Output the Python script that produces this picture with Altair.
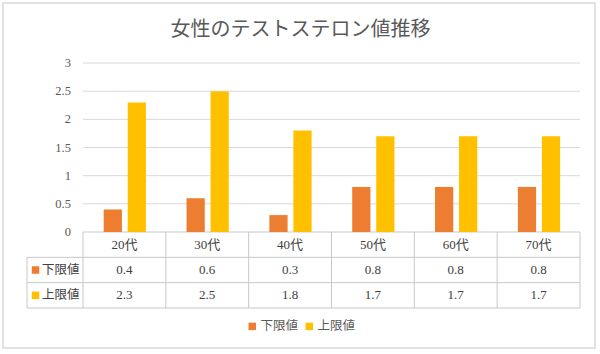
import altair as alt
import pandas as pd

# ---- data ----
categories = ["20代", "30代", "40代", "50代", "60代", "70代"]
series_names = ["下限値", "上限値"]
lower = [0.4, 0.6, 0.3, 0.8, 0.8, 0.8]
upper = [2.3, 2.5, 1.8, 1.7, 1.7, 1.7]
y_ticks = [0, 0.5, 1, 1.5, 2, 2.5, 3]
title_text = "女性のテストステロン値推移"
colors = ["#ED7D31", "#FFC000"]

# ---- layout constants (scale units) ----
NCAT = len(categories)
YMAX = 3
ROW_H = 0.4497           # one data-table row in y units
XMIN = -0.676            # width of row-label column in x units
YMIN = -3 * ROW_H

FONT_NUM = "'Liberation Serif', 'Noto Sans CJK JP', serif"
FONT_JP = "'Noto Sans CJK JP', sans-serif"
TXT = "#404040"
GRAY = "#595959"

xscale = alt.Scale(domain=[XMIN, NCAT], nice=False, zero=False)
yscale = alt.Scale(domain=[YMIN, YMAX], nice=False, zero=False)
cscale = alt.Scale(domain=series_names, range=colors)

rows = []
for i, c in enumerate(categories):
    for k, (s, vals) in enumerate(zip(series_names, [lower, upper])):
        rows.append({"cat": c, "idx": i, "series": s, "sidx": k, "value": vals[i]})
bars_df = pd.DataFrame(rows)

bars = alt.Chart(bars_df).transform_calculate(
    x0="datum.idx + 0.25 + datum.sidx * 0.29",
    x1="datum.x0 + 0.22",
    base="0",
).mark_rect().encode(
    x=alt.X("x0:Q", scale=xscale, axis=None),
    x2="x1:Q",
    y=alt.Y("value:Q", scale=yscale, axis=None),
    y2="base:Q",
    color=alt.Color("series:N", scale=cscale, sort=series_names,
                    legend=alt.Legend(title=None, orient="none", legendX=219, legendY=257,
                                      direction="horizontal", symbolType="square",
                                      symbolSize=56, labelFont=FONT_JP, labelFontSize=12.5,
                                      labelColor=GRAY, columnPadding=4, labelOffset=2)),
)

# y tick labels (drawn inside the left margin, as in the reference)
ytick_df = pd.DataFrame({"y": y_ticks})
ylabels = alt.Chart(ytick_df).transform_calculate(
    xc=f"{XMIN} + 0.531"
).mark_text(font=FONT_NUM, fontSize=12.5, color=GRAY, align="right", baseline="middle").encode(
    x=alt.X("xc:Q", scale=xscale, axis=None),
    y=alt.Y("y:Q", scale=yscale, axis=None),
    text=alt.Text("y:Q", format="~g"),
)

grid_df = pd.DataFrame({"y": [t for t in y_ticks if t > 0]})
grid = alt.Chart(grid_df).transform_calculate(
    x0="0", x1=str(NCAT)
).mark_rule(color="#D9D9D9", strokeWidth=1).encode(
    x=alt.X("x0:Q", scale=xscale, axis=None),
    x2="x1:Q",
    y=alt.Y("y:Q", scale=yscale, axis=None),
)

# table lines
seg = []
seg.append({"x": 0, "x2": NCAT, "y": 0, "y2": 0})
for r in range(1, 4):
    seg.append({"x": XMIN, "x2": NCAT, "y": -r * ROW_H, "y2": -r * ROW_H})
seg.append({"x": XMIN, "x2": XMIN, "y": -ROW_H, "y2": YMIN})
for i in range(NCAT + 1):
    seg.append({"x": i, "x2": i, "y": 0, "y2": YMIN})
seg_df = pd.DataFrame(seg)
lines = alt.Chart(seg_df).mark_rule(color="#C8C8C8", strokeWidth=1).encode(
    x=alt.X("x:Q", scale=xscale, axis=None),
    x2="x2:Q",
    y=alt.Y("y:Q", scale=yscale, axis=None),
    y2="y2:Q",
)

head_df = pd.DataFrame({"cat": categories, "idx": list(range(NCAT))})
header = alt.Chart(head_df).transform_calculate(
    xc="datum.idx + 0.5", yc=str(-0.5 * ROW_H)
).mark_text(font=FONT_NUM, fontSize=13, color=TXT, baseline="middle").encode(
    x=alt.X("xc:Q", scale=xscale, axis=None),
    y=alt.Y("yc:Q", scale=yscale, axis=None),
    text="cat:N",
)

values = alt.Chart(bars_df).transform_calculate(
    xc="datum.idx + 0.5", yc=f"-(datum.sidx + 1.5) * {ROW_H}"
).mark_text(font=FONT_NUM, fontSize=13, color=TXT, baseline="middle").encode(
    x=alt.X("xc:Q", scale=xscale, axis=None),
    y=alt.Y("yc:Q", scale=yscale, axis=None),
    text=alt.Text("value:Q", format=".1f"),
)

lab_df = pd.DataFrame({"series": series_names, "sidx": [0, 1]})
lab_sq = alt.Chart(lab_df).transform_calculate(
    xc=f"{XMIN} + 0.103", yc=f"-(datum.sidx + 1.5) * {ROW_H}"
).mark_square(size=56, opacity=1).encode(
    x=alt.X("xc:Q", scale=xscale, axis=None),
    y=alt.Y("yc:Q", scale=yscale, axis=None),
    color=alt.Color("series:N", scale=cscale, legend=None),
)
lab_txt = alt.Chart(lab_df).transform_calculate(
    xc=f"{XMIN} + 0.18", yc=f"-(datum.sidx + 1.5) * {ROW_H}"
).mark_text(font=FONT_JP, fontSize=12.5, color=TXT, align="left", baseline="middle").encode(
    x=alt.X("xc:Q", scale=xscale, axis=None),
    y=alt.Y("yc:Q", scale=yscale, axis=None),
    text="series:N",
)

frame = alt.Chart(pd.DataFrame({"a": [0]})).mark_rect(
    fill="transparent", stroke="#D9D9D9", strokeWidth=1.5
).encode(
    x=alt.value(-24), x2=alt.value(568), y=alt.value(-60), y2=alt.value(285)
)

chart = alt.layer(frame, grid, lines, bars, ylabels, header, values, lab_sq, lab_txt).properties(
    width=553, height=245,
    padding={"left": 27, "top": 63, "right": 20, "bottom": 46},
    autosize=alt.AutoSizeParams(type="none"),
    title=alt.TitleParams(title_text, font=FONT_JP, fontSize=20, fontWeight="normal",
                          color=GRAY, anchor="middle", frame="group", offset=-38, dx=-3),
    background="white",
).configure_view(stroke=None)

chart.save("out.html", embed_options={"renderer": "svg", "actions": False})
